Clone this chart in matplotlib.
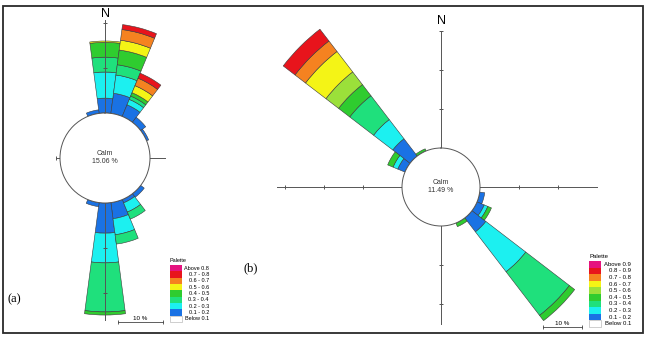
import numpy as np
import matplotlib
matplotlib.use('Agg')
import matplotlib.pyplot as plt
from matplotlib.patches import Rectangle

plt.rcParams['font.family'] = ['Liberation Sans', 'DejaVu Sans']

W, H = 648, 338

# ---------------- data: (a) ----------------
calm_a = 15.06
dirs_a = [0, 15, 30, 45, 60, 135, 150, 165, 180, 195, 345]
a_01_02 = [3.3, 4.5, 2.8, 1.4, 0.5, 1.0, 0.8, 3.6, 6.7, 0.9, 0.8]
a_02_03 = [5.8, 4.1, 1.3, 0, 0, 0, 2.2, 3.6, 6.6, 0, 0]
a_03_04 = [3.3, 2.3, 0.8, 0, 0, 0, 1.7, 2.1, 10.9, 0, 0]
a_04_05 = [3.3, 3.3, 0.8, 0, 0, 0, 0, 0, 0.7, 0, 0]
a_05_06 = [0.3, 2.2, 1.7, 0, 0, 0, 0, 0, 0, 0, 0]
a_06_07 = [0, 2.4, 1.8, 0, 0, 0, 0, 0, 0, 0, 0]
a_07_08 = [0, 1.1, 1.2, 0, 0, 0, 0, 0, 0, 0, 0]
labels_a = ['Above 0.8', '0.7 - 0.8', '0.6 - 0.7', '0.5 - 0.6', '0.4 - 0.5',
            '0.3 - 0.4', '0.2 - 0.3', '0.1 - 0.2', 'Below 0.1']

# ---------------- data: (b) ----------------
calm_b = 11.49
dirs_b = [105, 120, 135, 150, 300, 315, 330]
b_01_02 = [1.3, 2.0, 4.5, 0, 2.0, 5.6, 0]
b_02_03 = [0, 1.0, 12.9, 0, 1.3, 6.2, 0]
b_03_04 = [0, 0, 14.1, 0, 0, 7.7, 0]
b_04_05 = [0, 1.0, 1.7, 1.0, 1.5, 3.6, 0.6]
b_05_06 = [0, 0, 0, 0, 0, 4.1, 0]
b_06_07 = [0, 0, 0, 0, 0, 6.6, 0]
b_07_08 = [0, 0, 0, 0, 0, 3.4, 0]
b_08_09 = [0, 0, 0, 0, 0, 3.8, 0]
labels_b = ['Above 0.9', '0.8 - 0.9', '0.7 - 0.8', '0.6 - 0.7', '0.5 - 0.6',
            '0.4 - 0.5', '0.3 - 0.4', '0.2 - 0.3', '0.1 - 0.2', 'Below 0.1']

# colours
c_mag = '#e5137f'
c_red = '#e8141c'
c_ora = '#f58220'
c_yel = '#f4f416'
c_lgr = '#9be03a'
c_grn = '#2fcc2f'
c_spr = '#1fe07c'
c_cya = '#1cf0f0'
c_blu = '#1a72e4'

cols_a = [c_blu, c_cya, c_spr, c_grn, c_yel, c_ora, c_red]
cols_b = [c_blu, c_cya, c_spr, c_grn, c_lgr, c_yel, c_ora, c_red]
leg_a = [c_mag, c_red, c_ora, c_yel, c_grn, c_spr, c_cya, c_blu, 'white']
leg_b = [c_mag, c_red, c_ora, c_yel, c_lgr, c_grn, c_spr, c_cya, c_blu, 'white']

fig = plt.figure(figsize=(W / 100, H / 100), dpi=100)

# overlay in pixel units for frame, labels, legends
ov = fig.add_axes([0, 0, 1, 1])
ov.set_xlim(0, W)
ov.set_ylim(H, 0)
ov.axis('off')
ov.add_patch(Rectangle((2.5, 5.5), 640, 327.5, fill=False, lw=1.3, ec='#2a2a2a'))


def rose(cx, cy, ppp, rmax):
    # ppp = pixels per percent, calm circle = 10 % of the scale
    R = (rmax + 10) * ppp
    ax = fig.add_axes([(cx - R) / W, 1 - (cy + R) / H, 2 * R / W, 2 * R / H],
                      projection='polar')
    ax.set_theta_zero_location('N')
    ax.set_theta_direction(-1)
    ax.set_rorigin(-10)
    ax.set_ylim(0, rmax)
    ax.grid(False)
    ax.set_xticks([])
    ax.set_yticks([])
    ax.spines['polar'].set_visible(False)
    ax.spines['inner'].set_color('#555555')
    ax.spines['inner'].set_linewidth(0.7)
    ax.patch.set_visible(False)
    return ax


def stack(ax, dirs, classes, colors):
    th = np.radians(dirs)
    bottom = np.zeros(len(dirs))
    for vals, c in zip(classes, colors):
        vals = np.array(vals, float)
        m = vals > 0
        ax.bar(th[m], vals[m], width=np.radians(15), bottom=bottom[m],
               color=c, edgecolor='#3a3a3a', linewidth=0.4, zorder=2)
        bottom += vals


def axis_line(ax, deg, rend, ticks):
    t = np.radians(deg)
    ax.plot([t, t], [0, rend], color='#555555', lw=0.7, zorder=3)
    mk = '_' if deg in (0, 180) else '|'
    ax.plot([t] * len(ticks), ticks, ls='none', marker=mk, ms=3,
            mew=0.7, color='#555555', zorder=3)


def legend(x0, y0, rowh, labels, colors, xr, fs):
    ov.text(x0, y0 - 1.5, 'Palette', fontsize=fs, ha='left', va='bottom')
    for i, (lab, c) in enumerate(zip(labels, colors)):
        y = y0 + i * rowh
        ov.add_patch(Rectangle((x0, y), 12, rowh, fc=c,
                               ec='#aaaaaa' if c == 'white' else 'none', lw=0.4))
        ov.text(xr, y + rowh / 2, lab, fontsize=fs, ha='right', va='center')


def scalebar(x0, y, ppp, fs):
    x1 = x0 + 10 * ppp
    ov.plot([x0, x1], [y, y], color='#444444', lw=0.6)
    ov.plot([x0, x1], [y, y], ls='none', marker='|', ms=2.5, mew=0.6, color='#444444')
    ov.text((x0 + x1) / 2, y - 1, '10 %', fontsize=fs, ha='center', va='bottom')


# ---------------- panel (a) ----------------
ppa = 4.5
axa = rose(105, 158, ppa, 30)
stack(axa, dirs_a, [a_01_02, a_02_03, a_03_04, a_04_05, a_05_06, a_06_07, a_07_08], cols_a)
axis_line(axa, 0, 20.7, [10, 20])
axis_line(axa, 180, 26, [10, 20])
axis_line(axa, 90, 3.3, [])
axis_line(axa, 270, 1.0, [1.0])
axa.text(0, 22, 'N', fontsize=9, ha='center', va='center')
axa.text(0.5, 0.5, 'Calm\n%.2f %%' % calm_a, transform=axa.transAxes,
         fontsize=5, ha='center', va='center', color='#333333')
legend(170, 265, 6.35, labels_a, leg_a, 209, 4)
scalebar(118, 322, ppa, 4.5)
ov.text(8, 299, '(a)', fontsize=9, family='Liberation Serif', ha='left', va='center')

# ---------------- panel (b) ----------------
ppb = 3.9
axb = rose(441, 187, ppb, 45)
stack(axb, dirs_b, [b_01_02, b_02_03, b_03_04, b_04_05, b_05_06, b_06_07, b_07_08, b_08_09], cols_b)
axis_line(axb, 0, 30, [10, 20, 30])
axis_line(axb, 180, 25, [10, 20])
axis_line(axb, 90, 30, [10, 20])
axis_line(axb, 270, 32, [10, 20, 30])
axb.text(0, 32.6, 'N', fontsize=9, ha='center', va='center')
axb.text(0.5, 0.5, 'Calm\n%.2f %%' % calm_b, transform=axb.transAxes,
         fontsize=5, ha='center', va='center', color='#333333')
legend(589, 261, 6.6, labels_b, leg_b, 631, 4.3)
scalebar(543, 327, ppb, 4.5)
ov.text(243, 268, '(b)', fontsize=9, family='Liberation Serif', ha='left', va='center')

fig.savefig('out.png', dpi=100)
